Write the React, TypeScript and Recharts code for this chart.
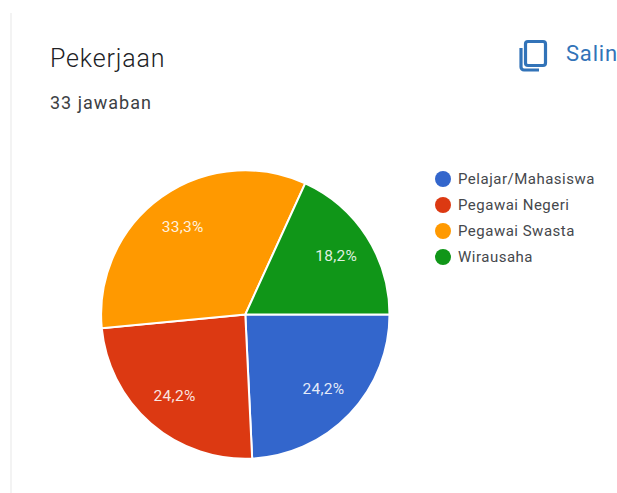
import React from "react";
import { PieChart, Pie, Cell, Legend } from "recharts";

const categories = ["Pelajar/Mahasiswa", "Pegawai Negeri", "Pegawai Swasta", "Wirausaha"];
const responses = [8, 8, 11, 6];
const percentLabels = ["24,2%", "24,2%", "33,3%", "18,2%"];
const colors = ["#3366CC", "#DC3912", "#FF9900", "#109618"];

const rows = categories.map((name, i) => ({ name, value: responses[i], text: percentLabels[i] }));
const RAD = Math.PI / 180;
const FONT = "Roboto, sans-serif";

function SliceLabel(p: any) {
  const r = 108;
  const x = p.cx + r * Math.cos(-p.midAngle * RAD);
  const y = p.cy + r * Math.sin(-p.midAngle * RAD);
  return (
    <text x={x} y={y} fill="#fff" fillOpacity={0.88} fontSize={15.5} letterSpacing={0.3} fontFamily={FONT} textAnchor="middle" dominantBaseline="central">
      {p.payload.text}
    </text>
  );
}

function LegendList() {
  return (
    <div>
      {categories.map((c, i) => (
        <div key={c} style={{ position: "absolute", left: 0, top: i * 26, height: 18, display: "flex", alignItems: "center", whiteSpace: "nowrap" }}>
          <span style={{ width: 16, height: 16, borderRadius: 8, background: colors[i], display: "inline-block" }} />
          <span style={{ marginLeft: 7, fontSize: 15, fontFamily: FONT, color: "#45484c", letterSpacing: 0.5 }}>{c}</span>
        </div>
      ))}
    </div>
  );
}

export default function App() {
  return (
    <div style={{ position: "absolute", left: 0, top: 0, width: 617, height: 493, overflow: "hidden", background: "#fff" }}>
      <div style={{ position: "absolute", left: 10, top: 13, width: 2, height: 480, background: "#f3f3f3" }} />
      <div style={{ position: "absolute", left: 50, top: 44, fontSize: 25, fontWeight: 300, fontFamily: FONT, color: "#202124", lineHeight: "30px", letterSpacing: 0.85 }}>Pekerjaan</div>
      <div style={{ position: "absolute", left: 50, top: 92, fontSize: 18, fontFamily: FONT, color: "#3c4043", lineHeight: "22px", letterSpacing: 1 }}>33 jawaban</div>
      <svg style={{ position: "absolute", left: 516, top: 38 }} width={34} height={36} viewBox="0 0 34 36">
        <rect x="9.5" y="3.5" width="20" height="24" rx="2.5" fill="none" stroke="#3273B8" strokeWidth="3.2" />
        <path d="M5 10 V29 a3 3 0 0 0 3 3 H23" fill="none" stroke="#3273B8" strokeWidth="3.2" />
      </svg>
      <div style={{ position: "absolute", left: 566, top: 41, fontSize: 22, fontFamily: FONT, fontWeight: 400, color: "#3273B8", lineHeight: "26px", letterSpacing: 0.8 }}>Salin</div>
      <div style={{ position: "absolute", left: 0, top: 0 }}>
        <PieChart width={617} height={493} margin={{ top: 0, right: 0, bottom: 0, left: 0 }}>
          <Pie
            data={rows}
            dataKey="value"
            nameKey="name"
            cx={245.3}
            cy={314.5}
            outerRadius={144.2}
            startAngle={0}
            endAngle={-360}
            stroke="#fff"
            strokeWidth={2}
            label={SliceLabel}
            labelLine={false}
            isAnimationActive={false}
          >
            {rows.map((r, i) => (
              <Cell key={r.name} fill={colors[i]} />
            ))}
          </Pie>
          <Legend content={<LegendList />} wrapperStyle={{ position: "absolute", left: 435, top: 170, width: 180, height: 110 }} />
        </PieChart>
      </div>
    </div>
  );
}
